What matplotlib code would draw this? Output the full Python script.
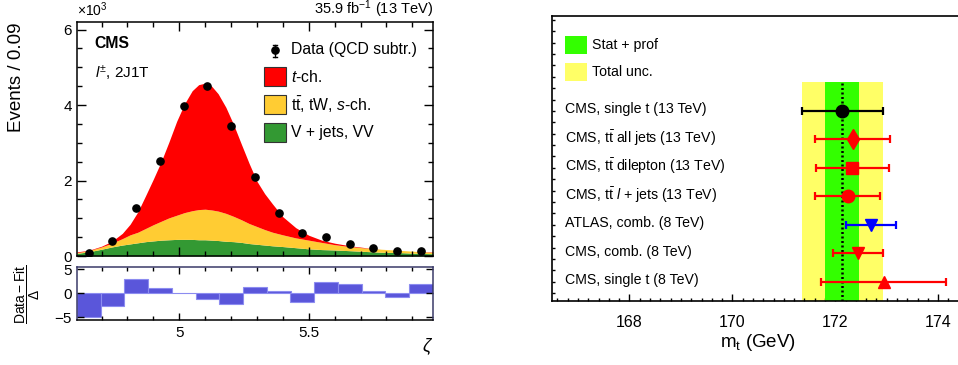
import numpy as np
import matplotlib
matplotlib.use('Agg')
import matplotlib.pyplot as plt
from matplotlib.patches import Rectangle
from matplotlib.ticker import MultipleLocator, FixedLocator

plt.rcParams['font.family'] = ['Liberation Sans', 'DejaVu Sans']
plt.rcParams['mathtext.fontset'] = 'custom'
plt.rcParams['mathtext.rm'] = 'Liberation Sans'
plt.rcParams['mathtext.it'] = 'Liberation Sans:italic'
plt.rcParams['mathtext.bf'] = 'Liberation Sans:bold'
plt.rcParams['mathtext.sf'] = 'Liberation Sans'

# ---------------- data: left panel ----------------
zeta_data = [4.650, 4.742, 4.834, 4.925, 5.017, 5.109, 5.200, 5.292,
             5.384, 5.475, 5.567, 5.659, 5.750, 5.842, 5.934]
events_data = [0.09, 0.39, 1.28, 2.51, 3.97, 4.51, 3.45, 2.10,
               1.15, 0.62, 0.50, 0.33, 0.21, 0.14, 0.13]  # x10^3

curve_x = [4.605, 4.65, 4.70, 4.74, 4.78, 4.81, 4.84, 4.87, 4.90, 4.93,
           4.96, 4.99, 5.02, 5.05, 5.075, 5.10, 5.125, 5.15, 5.18, 5.21,
           5.24, 5.27, 5.30, 5.33, 5.36, 5.40, 5.45, 5.50, 5.55, 5.60,
           5.66, 5.72, 5.78, 5.85, 5.92, 5.98]
curve_total = [0.11, 0.15, 0.26, 0.39, 0.60, 0.84, 1.17, 1.60, 2.04, 2.50,
               3.02, 3.57, 4.03, 4.38, 4.54, 4.58, 4.50, 4.30, 3.94, 3.48,
               2.96, 2.45, 1.98, 1.65, 1.38, 1.04, 0.75, 0.55, 0.42, 0.34,
               0.27, 0.22, 0.18, 0.15, 0.12, 0.11]
curve_top_bkg = [0.09, 0.14, 0.24, 0.34, 0.46, 0.56, 0.63, 0.73, 0.83, 0.92,
                 1.01, 1.08, 1.15, 1.20, 1.23, 1.24, 1.22, 1.19, 1.13, 1.05,
                 0.96, 0.86, 0.78, 0.70, 0.63, 0.56, 0.48, 0.42, 0.36, 0.30,
                 0.25, 0.21, 0.18, 0.15, 0.12, 0.10]
curve_vjets = [0.07, 0.11, 0.18, 0.24, 0.29, 0.32, 0.35, 0.38, 0.40, 0.42,
               0.43, 0.44, 0.44, 0.44, 0.43, 0.43, 0.42, 0.41, 0.39, 0.38,
               0.36, 0.33, 0.31, 0.29, 0.27, 0.25, 0.22, 0.19, 0.17, 0.16,
               0.14, 0.12, 0.10, 0.09, 0.07, 0.06]
residuals = [-5.0, -2.6, 3.1, 1.1, 0.14, -1.3, -2.3, 1.35,
             0.5, -1.9, 2.45, 1.85, 0.5, -0.7, 1.85]

# ---------------- data: right panel ----------------
meas_labels = ['CMS, single t (13 TeV)',
               r'CMS, $\mathrm{t\bar{t}}$ all jets (13 TeV)',
               r'CMS, $\mathrm{t\bar{t}}$ dilepton (13 TeV)',
               r'CMS, $\mathrm{t\bar{t}}$ $\mathit{l}$ + jets (13 TeV)',
               'ATLAS, comb. (8 TeV)',
               'CMS, comb. (8 TeV)',
               'CMS, single t (8 TeV)']
mt_vals = [172.13, 172.34, 172.33, 172.25, 172.69, 172.44, 172.95]
mt_err_lo = [0.78, 0.73, 0.70, 0.64, 0.49, 0.48, 1.23]
mt_err_hi = [0.79, 0.73, 0.71, 0.62, 0.49, 0.48, 1.21]
meas_colors = ['black', 'red', 'red', 'red', 'blue', 'red', 'red']
meas_markers = ['o', 'd', 's', 'o', 'v', 'v', '^']
meas_msize = [9, 10, 9, 9, 9, 9, 9]

band_center = 172.13
band_stat = (0.33, 0.34)
band_total = (0.78, 0.79)

W, H = 958, 365
fig = plt.figure(figsize=(W / 100, H / 100), dpi=100)

def fx(px):
    return px / W

def fy(py):
    return 1 - py / H

# ---------------- left top ----------------
xmin, xmax = 4.605, 5.98
ax1 = fig.add_axes([fx(77), fy(256), fx(433) - fx(77), fy(22) - fy(256)])
cx = np.array(curve_x)
ax1.fill_between(cx, 0, curve_vjets, color='#339933', lw=0)
ax1.fill_between(cx, curve_vjets, curve_top_bkg, color='#ffcc33', lw=0)
ax1.fill_between(cx, curve_top_bkg, curve_total, color='#ff0000', lw=0)
ax1.plot(zeta_data, events_data, 'o', color='black', ms=5.2, zorder=5)
ax1.set_xlim(xmin, xmax)
ax1.set_ylim(0, 6.2)
ax1.xaxis.set_major_locator(FixedLocator([5.0, 5.5]))
ax1.xaxis.set_minor_locator(MultipleLocator(0.1))
ax1.yaxis.set_major_locator(MultipleLocator(2))
ax1.yaxis.set_minor_locator(MultipleLocator(0.5))
ax1.tick_params(which='both', direction='in', top=True, right=True,
                labelbottom=False, labelsize=11, width=1.0)
ax1.tick_params(which='major', length=6.5, pad=3.5)
ax1.tick_params(which='minor', length=3.5)
for s in ax1.spines.values():
    s.set_linewidth(1.1)
ax1.set_ylabel('Events / 0.09', fontsize=13.5, loc='top')
ax1.yaxis.set_label_coords(-0.145, 1.0)
ax1.text(0.0, 1.012, r'$\times10^{3}$', transform=ax1.transAxes,
         fontsize=10, ha='left', va='bottom')
ax1.text(1.0, 1.034, r'35.9 fb$^{-1}$ (13 TeV)', transform=ax1.transAxes,
         fontsize=10.5, ha='right', va='baseline')
ax1.text(0.05, 0.906, 'CMS', transform=ax1.transAxes, fontsize=11.3,
         fontweight='bold', ha='left', va='center')
ax1.text(0.05, 0.782, r'$\mathit{l}^{\pm}$, 2J1T', transform=ax1.transAxes,
         fontsize=11, ha='left', va='center')

# legend (left)
lx = (275 - 77) / 356
ax1.plot([lx, lx], [0.850, 0.902], color='black', lw=1, transform=ax1.transAxes)
ax1.plot([lx - 0.006, lx + 0.006], [0.850, 0.850], color='black', lw=1, transform=ax1.transAxes)
ax1.plot([lx - 0.006, lx + 0.006], [0.902, 0.902], color='black', lw=1, transform=ax1.transAxes)
ax1.plot([lx], [0.880], 'o', color='black', ms=5.2, transform=ax1.transAxes)
tx = (291 - 77) / 356
ax1.text(tx, 0.882, 'Data (QCD subtr.)', transform=ax1.transAxes,
         fontsize=11.3, ha='left', va='center')
leg_entries = [('#ff0000', r'$\mathit{t}$-ch.', 76.5),
               ('#ffcc33', r'$\mathrm{t\bar{t}}$, tW, $\mathit{s}$-ch.', 104.7),
               ('#339933', 'V + jets, VV', 132.7)]
for col, lab, yc in leg_entries:
    yfc = (256 - yc) / 234
    ax1.add_patch(Rectangle(((264 - 77) / 356, yfc - 0.0412), 21.7 / 356, 0.0825,
                            transform=ax1.transAxes, facecolor=col,
                            edgecolor='#333333', lw=0.8))
    ax1.text(tx, yfc, lab, transform=ax1.transAxes, fontsize=11.3,
             ha='left', va='center')

# ---------------- left bottom ----------------
ax2 = fig.add_axes([fx(77), fy(320), fx(433) - fx(77), fy(267.3) - fy(320)])
ax2.bar(zeta_data, residuals, width=(xmax - xmin) / 15, color='#5a56da',
        edgecolor='#8c8cf0', linewidth=0.8)
ax2.set_xlim(xmin, xmax)
ax2.set_ylim(-5.6, 5.45)
ax2.xaxis.set_major_locator(FixedLocator([5.0, 5.5]))
ax2.xaxis.set_minor_locator(MultipleLocator(0.1))
ax2.yaxis.set_major_locator(MultipleLocator(5))
ax2.tick_params(which='both', direction='in', top=True, right=True,
                labelsize=11, width=1.0)
ax2.tick_params(which='major', length=5, pad=4)
ax2.tick_params(which='minor', length=3)
ax2.set_xticklabels(['5', '5.5'])
for k, s in ax2.spines.items():
    s.set_linewidth(1.1)
    if k != 'bottom':
        s.set_color('#3a3a68')
ax2.text(1.0, -0.5, r'$\zeta$', transform=ax2.transAxes, fontsize=13,
         ha='right', va='center')
fig.text(fx(27), fy(294), r'$\dfrac{\mathrm{Data - Fit}}{\Delta}$',
         rotation=90, fontsize=10, ha='center', va='center')

# ---------------- right panel ----------------
ax3 = fig.add_axes([fx(552.3), fy(300.7), fx(963.9) - fx(552.3), fy(16) - fy(300.7)])
ax3.set_xlim(166.5, 174.5)
ax3.set_ylim(6.66, -3.33)
band_top = (300.7 - 82) / 284.7
ax3.axvspan(band_center - band_total[0], band_center + band_total[1],
            ymin=0, ymax=band_top, color='#ffff66', lw=0, zorder=1)
ax3.axvspan(band_center - band_stat[0], band_center + band_stat[1],
            ymin=0, ymax=band_top, color='#33ff00', lw=0, zorder=2)
ax3.axvline(band_center, ymin=0, ymax=band_top, color='black', lw=1.8,
            ls=(0, (0.8, 1.0)), zorder=3)
for i in range(len(mt_vals)):
    ax3.errorbar([mt_vals[i]], [i], xerr=[[mt_err_lo[i]], [mt_err_hi[i]]],
                 fmt=meas_markers[i], color=meas_colors[i], ms=meas_msize[i],
                 elinewidth=1.6, capsize=3, capthick=1.6, zorder=5)
    ax3.text(0.031, i - 0.05, meas_labels[i], transform=ax3.get_yaxis_transform(),
             fontsize=10.2, ha='left', va='center')
# legend (right)
ax3.add_patch(Rectangle((0.0309, 0.8665), 0.0527, 0.0632, transform=ax3.transAxes,
                        facecolor='#33ff00', lw=0))
ax3.add_patch(Rectangle((0.0309, 0.7706), 0.0527, 0.0653, transform=ax3.transAxes,
                        facecolor='#ffff66', lw=0))
ax3.text(0.0957, 0.898, 'Stat + prof', transform=ax3.transAxes, fontsize=10.2,
         ha='left', va='center')
ax3.text(0.0957, 0.803, 'Total unc.', transform=ax3.transAxes, fontsize=10.2,
         ha='left', va='center')
ax3.xaxis.set_major_locator(MultipleLocator(2))
ax3.xaxis.set_minor_locator(MultipleLocator(0.2))
ax3.yaxis.set_major_locator(FixedLocator([]))
ax3.yaxis.set_minor_locator(MultipleLocator(0.4))
ax3.tick_params(which='both', direction='in', labelsize=11.5, width=1.0)
ax3.tick_params(axis='x', which='major', length=5, pad=10)
ax3.tick_params(axis='x', which='minor', length=2.5)
ax3.tick_params(axis='y', which='minor', length=2.5)
ax3.tick_params(axis='y', labelleft=False)
for s in ax3.spines.values():
    s.set_linewidth(1.2)
ax3.set_xlabel(r'm$_{\mathrm{t}}$ (GeV)', fontsize=13.5, labelpad=2)

fig.savefig('out.png', dpi=100)
